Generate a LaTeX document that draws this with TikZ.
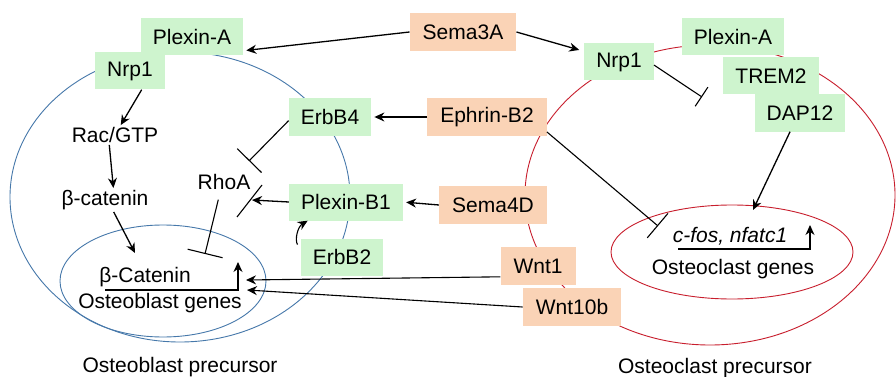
\documentclass[tikz,border=0pt]{standalone}
\usepackage{fontspec}
\setmainfont{Liberation Sans}
\usetikzlibrary{arrows.meta}
\definecolor{boxgreen}{RGB}{206,244,206}
\definecolor{boxorange}{RGB}{250,211,182}
\definecolor{cellblue}{RGB}{70,120,170}
\definecolor{cellred}{RGB}{200,30,45}

\begin{document}
\begin{tikzpicture}[x=1pt, y=-1pt, font=\fontsize{21}{25}\selectfont,
    gbox/.style={fill=boxgreen, inner xsep=12pt, minimum height=37pt},
    obox/.style={fill=boxorange, inner xsep=13pt, minimum height=38pt},
    lbl/.style={inner sep=2pt},
    arr/.style={-{Stealth[length=10pt,width=9pt]}, line width=1.3pt},
    inh/.style={-{Bar[width=#1]}, line width=1.1pt}]

    \fill[white] (0,0) rectangle (896,377);
    \useasboundingbox (0,0) rectangle (896,377);

    % Osteoblast precursor
    \draw[cellblue, line width=0.9pt] (180,197) ellipse [x radius=170pt, y radius=145pt];
    \draw[cellblue, line width=0.9pt] (163,281) ellipse [x radius=103pt, y radius=56pt];

    % Osteoclast precursor
    \draw[cellred, line width=0.9pt] (710,195) ellipse [x radius=185pt, y radius=150pt];
    \draw[cellred, line width=0.9pt] (732,252) ellipse [x radius=121pt, y radius=47pt];

    % Receptors, left
    \node[gbox] (plexal) at (192,37) {Plexin-A};
    \node[gbox] (nrp1l) at (130,71) {Nrp1};
    \node[gbox] (erbb4) at (330,117) {ErbB4};
    \node[gbox] (plexb1) at (346,202) {Plexin-B1};
    \node[gbox] (erbb2) at (342,257) {ErbB2};

    % Receptors, right
    \node[gbox] (nrp1r) at (619,62) {Nrp1};
    \node[gbox] (plexar) at (733,37) {Plexin-A};
    \node[gbox] (trem2) at (771,76) {TREM2};
    \node[gbox] (dap12) at (800,113) {DAP12};

    % Ligands
    \node[obox] (sema3a) at (463,32) {Sema3A};
    \node[obox] (ephb2) at (487,117) {Ephrin-B2};
    \node[obox] (sema4d) at (493,205) {Sema4D};
    \node[obox] (wnt1) at (538,266) {Wnt1};
    \node[obox] (wnt10b) at (572,307) {Wnt10b};

    % Inside the cells
    \node[lbl] (racgtp) at (115,135) {Rac/GTP};
    \node[lbl] (bcat) at (105,200) {β-catenin};
    \node[lbl] (rhoa) at (224,182) {RhoA};
    \node[lbl] (bcatg) at (145,277) {β-Catenin};
    \node[lbl] (obgenes) at (160,303) {Osteoblast genes};
    \node[lbl] (cfos) at (730,236) {\itshape c-fos, nfatc1};
    \node[lbl] (ocgenes) at (733,269) {Osteoclast genes};
    \node (oblabel) at (180,367) {Osteoblast precursor};
    \node (oclabel) at (715,368) {Osteoclast precursor};

    % Free ends
    \coordinate (obstart) at (105,290);
    \coordinate (obup) at (238,262);
    \coordinate (ocstart) at (678,249);
    \coordinate (ocup) at (810,225);
    \coordinate (rhoabar) at (249,161);
    \coordinate (pbtip) at (252,200);
    \coordinate (pbbar1) at (237,217);
    \coordinate (pbbar2) at (262,185);
    \coordinate (genebar) at (205,254);
    \coordinate (trembar) at (702,97);
    \coordinate (cfosbar) at (658,226);
    \coordinate (daptip) at (753,210);
    \coordinate (bcattip) at (135,253);
    \coordinate (wnt1tip) at (246,280);
    \coordinate (wnt10tip) at (247,290);

    % Gene arrows
    \draw[arr, line width=1.1pt] (obstart) -| (obup);
    \draw[arr, line width=1.1pt] (ocstart) -| (ocup);

    % Signalling, left
    \draw[arr, shorten >=3pt] (sema3a.west) -- (plexal.-15);
    \draw[arr] (nrp1l.-58) -- (racgtp.60);
    \draw[arr] (racgtp.-120) -- (bcat.55);
    \draw[arr] (bcat.-54) -- (bcattip);
    \draw[arr, shorten >=3pt] (ephb2.west) -- (erbb4.east);
    \draw[inh=34pt] (erbb4.185) -- (rhoabar);
    \draw[arr] (plexb1.west) -- (pbtip);
    \draw[line width=1.1pt] (pbbar1) -- (pbbar2);
    \draw[inh=36pt, shorten <=8pt] (rhoa.-111) -- (genebar);
    \draw[arr, shorten >=3pt] (sema4d.west) -- (plexb1.east);
    \draw[arr, line width=1.1pt, shorten <=6pt] (erbb2.170) to[bend left=45] (plexb1.-154);
    \draw[arr, line width=1.1pt] (wnt1.-164) -- (wnt1tip);
    \draw[arr, line width=1.1pt] (wnt10b.west) -- (wnt10tip);

    % Signalling, right
    \draw[arr, shorten >=5pt] (sema3a.east) -- (nrp1r.163);
    \draw[inh=23pt] (nrp1r.-5) -- (trembar);
    \draw[inh=32pt] (ephb2.-14) -- (cfosbar);
    \draw[arr] (dap12.-118) -- (daptip);
\end{tikzpicture}
\end{document}
